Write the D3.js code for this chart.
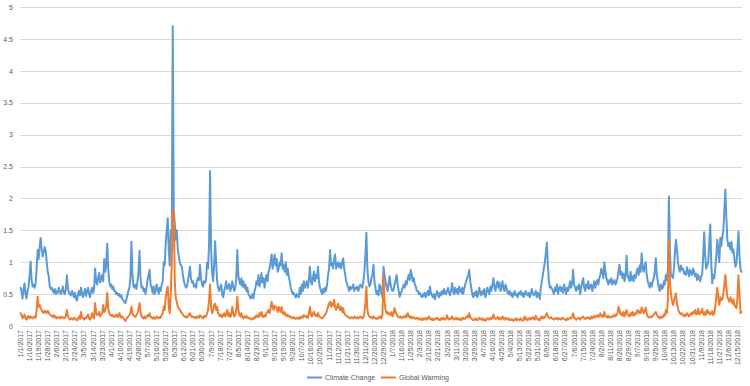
<!DOCTYPE html>
<html><head><meta charset="utf-8">
<script src="https://cdn.jsdelivr.net/npm/d3@7/dist/d3.min.js"></script>
<style>body{margin:0;background:#fff}svg{display:block}</style>
</head><body><svg id="c" width="750" height="386"></svg>
<script>
const seriesNames = ["Climate Change", "Global Warming"];
const seriesColors = ["#5B9BD5", "#ED7D31"];
const missingDays = ["12/1/2017", "12/2/2017"];
const yTicks = [0, 0.5, 1, 1.5, 2, 2.5, 3, 3.5, 4, 4.5, 5];
const tickLabels = ["1/1/2017","1/10/2017","1/19/2017","1/28/2017","2/6/2017","2/15/2017","2/24/2017","3/5/2017","3/14/2017","3/23/2017","4/1/2017","4/10/2017","4/19/2017","4/28/2017","5/7/2017","5/16/2017","5/25/2017","6/3/2017","6/12/2017","6/21/2017","6/30/2017","7/9/2017","7/18/2017","7/27/2017","8/5/2017","8/14/2017","8/23/2017","9/1/2017","9/10/2017","9/19/2017","9/28/2017","10/7/2017","10/16/2017","10/25/2017","11/3/2017","11/12/2017","11/21/2017","11/30/2017","12/11/2017","12/20/2017","12/29/2017","1/7/2018","1/16/2018","1/25/2018","2/3/2018","2/12/2018","2/21/2018","3/2/2018","3/11/2018","3/20/2018","3/29/2018","4/7/2018","4/16/2018","4/25/2018","5/4/2018","5/13/2018","5/22/2018","5/31/2018","6/9/2018","6/18/2018","6/27/2018","7/6/2018","7/15/2018","7/24/2018","8/2/2018","8/11/2018","8/20/2018","8/29/2018","9/7/2018","9/16/2018","9/25/2018","10/4/2018","10/13/2018","10/22/2018","10/31/2018","11/9/2018","11/18/2018","11/27/2018","12/6/2018","12/15/2018"];

const climateChange = [
0.6,0.55,0.43,0.58,0.67,0.5,0.43,0.55,0.62,0.78,1.01,0.72,0.62,0.65,0.6,0.66,
0.9,1.19,1.05,1.25,1.38,1.2,1.09,1.16,1.24,1.18,1.0,0.85,0.78,0.62,0.58,
0.6,0.55,0.52,0.58,0.5,0.55,0.52,0.6,0.54,0.5,0.55,0.62,0.52,0.5,0.58,0.79,
0.6,0.52,0.5,0.48,0.55,0.5,0.45,0.52,0.42,0.4,0.5,0.55,0.48,0.6,0.5,0.45,0.52,0.58,0.47,0.55,0.6,0.5,0.45,0.55,0.6,0.52,0.58,
0.9,0.7,0.65,0.75,0.83,0.68,0.75,0.8,0.7,1.05,0.85,0.95,1.29,0.9,0.7,0.62,0.65,0.58,0.62,0.55,
0.55,0.5,0.52,0.48,0.5,0.45,0.48,0.42,0.4,0.38,0.36,0.42,0.48,0.55,0.6,0.75,
1.32,0.8,0.62,0.6,0.65,0.58,0.7,0.85,1.18,0.75,0.6,0.62,0.55,0.58,0.5,0.6,0.72,0.8,
0.88,0.65,0.6,0.52,0.62,0.5,0.55,0.65,0.58,0.5,0.6,0.55,0.65,0.7,1.0,0.95,1.3,1.5,
1.69,1.2,0.95,1.5,1.4,4.7,1.8,1.6,1.35,1.5,1.2,1.09,1.0,0.95,0.93,
0.8,0.7,0.65,0.6,0.62,0.7,0.8,0.93,0.75,0.68,0.7,0.62,0.65,0.6,0.7,0.75,0.72,0.96,0.75,0.65,0.62,0.7,0.68,0.72,0.99,0.9,1.3,
2.43,1.2,0.83,0.7,0.95,1.33,1.0,0.7,0.6,0.55,0.6,
0.65,0.5,0.45,0.55,0.62,0.7,0.58,0.6,0.66,0.55,0.6,0.7,0.62,0.55,0.6,0.75,
1.19,0.8,0.7,0.65,0.75,0.62,0.7,0.6,0.65,0.55,0.6,0.5,0.48,0.43,0.45,0.5,0.43,0.55,
0.6,0.7,0.65,0.8,0.62,0.7,0.83,0.68,0.75,0.6,0.72,0.8,0.7,0.85,0.9,1.0,
1.12,0.9,1.0,1.12,0.95,1.05,0.85,0.9,1.0,0.95,1.14,0.9,0.95,0.85,1.0,0.8,0.9,0.78,
0.7,0.6,0.55,0.5,0.52,0.48,0.45,0.5,0.47,0.45,0.6,0.5,0.65,0.55,0.7,0.6,0.65,0.7,0.6,0.72,
0.93,0.7,0.65,0.75,0.85,0.7,0.8,0.75,0.93,0.7,0.6,0.55,0.5,0.58,0.52,0.6,0.55,0.65,0.8,0.9,
1.19,0.95,0.99,0.9,1.05,1.12,0.9,0.95,1.0,0.92,0.98,0.9,1.0,1.06,0.9,0.8,0.7,0.65,
0.6,0.55,0.62,0.58,0.6,0.65,0.55,0.6,0.58,0.62,0.55,0.6,0.65,0.62,0.6,0.7,0.85,1.1,
1.46,0.9,0.7,0.62,0.65,0.75,0.8,0.96,0.7,0.6,0.5,0.55,0.48,0.65,0.62,0.5,0.45,0.93,
0.8,0.7,0.62,0.55,0.65,0.78,0.65,0.58,0.55,0.57,0.65,0.72,0.8,0.65,0.55,0.46,0.5,0.55,0.6,
0.65,0.6,0.7,0.65,0.75,0.8,0.72,0.88,0.8,0.7,0.75,0.65,0.62,0.55,
0.55,0.5,0.52,0.48,0.45,0.5,0.47,0.52,0.45,0.5,0.55,0.48,
0.62,0.52,0.48,0.45,0.5,0.42,0.48,0.55,0.5,0.45,0.52,0.48,0.55,0.5,0.58,0.52,0.5,0.55,0.6,0.52,0.48,0.55,
0.67,0.55,0.5,0.6,0.52,0.58,0.5,0.62,0.55,0.52,0.6,0.5,0.58,0.65,0.7,0.75,0.8,
0.88,0.7,0.6,0.5,0.45,0.52,0.48,0.55,0.45,0.5,0.6,0.52,0.48,0.55,0.5,0.58,0.45,0.52,0.6,0.55,0.5,0.62,0.55,0.65,
0.75,0.6,0.55,0.65,0.7,0.6,0.68,0.55,0.62,0.7,0.58,0.55,0.65,0.6,0.52,
0.5,0.55,0.48,0.52,0.45,0.5,0.55,0.48,0.5,0.45,0.52,0.5,0.55,0.48,0.52,0.45,0.5,0.55,0.5,0.48,0.52,0.45,0.5,0.58,0.52,0.48,0.5,0.55,0.45,0.52,0.5,0.42,0.6,
0.7,0.8,0.9,1.0,1.15,1.31,0.95,0.7,0.6,0.62,0.58,
0.55,0.5,0.6,0.55,0.65,0.5,0.58,0.62,0.55,0.6,0.52,0.65,0.58,0.5,0.6,0.55,0.62,0.7,0.6,0.65,
0.88,0.65,0.6,0.55,0.62,0.58,0.65,0.5,0.6,0.68,0.75,0.6,0.55,0.65,0.6,0.7,0.58,0.62,0.65,0.55,0.62,0.7,0.6,0.68,0.72,0.65,0.75,
0.8,0.9,0.85,0.75,1.0,0.85,0.75,0.7,0.65,0.72,0.68,0.75,0.65,0.7,0.72,0.65,0.68,0.75,0.85,
0.96,0.8,0.85,0.75,0.82,0.7,0.78,1.1,0.8,0.75,0.7,0.85,0.72,0.78,0.7,0.8,0.75,0.85,0.9,0.8,0.95,0.85,
1.14,0.9,0.85,0.95,1.0,0.8,0.7,0.65,0.6,0.68,0.62,0.7,0.75,0.85,
1.06,0.8,0.7,0.6,0.55,0.65,0.58,0.6,0.7,0.65,0.8,0.72,0.9,
2.03,1.2,0.78,0.8,0.75,0.9,1.15,1.35,1.2,1.0,
0.9,0.85,0.95,0.88,0.9,0.82,0.85,0.8,0.92,0.85,0.78,0.88,0.82,0.8,0.9,0.85,0.78,0.82,0.72,0.8,0.75,0.7,0.78,
0.8,1.1,1.47,1.1,0.9,0.95,1.0,1.3,1.59,1.0,0.67,0.8,0.75,0.9,1.1,1.35,1.2,1.0,1.38,1.25,1.4,1.5,1.8,2.14,1.7,1.35,1.25,1.3,1.2,1.32,1.15,1.2,1.05,0.93,0.98,1.2,1.48,1.1,0.88,0.85
];

const globalWarming = [
0.2,0.17,0.12,0.15,0.18,0.12,0.1,0.14,0.16,0.12,0.15,0.13,0.12,0.14,0.15,0.13,
0.25,0.46,0.3,0.33,0.28,0.25,0.22,0.2,0.24,0.22,0.2,0.24,0.21,0.18,0.17,
0.16,0.14,0.17,0.13,0.15,0.12,0.14,0.13,0.12,0.15,0.13,0.14,0.12,0.13,0.16,0.25,
0.16,0.12,0.1,0.12,0.11,0.1,0.13,0.12,0.1,0.09,0.12,0.15,0.11,0.22,0.14,0.12,0.1,0.13,0.12,0.15,0.18,0.12,0.1,0.13,0.2,0.15,0.12,
0.36,0.2,0.17,0.18,0.22,0.15,0.18,0.2,0.33,0.22,0.25,0.3,0.52,0.28,0.2,0.17,0.16,0.18,0.15,0.14,
0.17,0.15,0.18,0.14,0.2,0.16,0.13,0.15,0.12,0.1,0.08,0.11,0.13,0.15,0.17,0.2,
0.3,0.2,0.17,0.15,0.14,0.17,0.2,0.26,0.36,0.22,0.15,0.13,0.12,0.15,0.12,0.14,0.17,0.15,
0.2,0.15,0.13,0.12,0.14,0.11,0.12,0.15,0.13,0.12,0.14,0.13,0.18,0.2,0.3,0.25,0.45,0.55,
0.62,0.3,0.2,0.5,1.0,1.82,1.78,0.7,0.43,0.38,0.3,0.28,0.25,0.22,0.2,
0.18,0.16,0.14,0.15,0.13,0.15,0.18,0.2,0.16,0.14,0.15,0.13,0.14,0.12,0.15,0.14,0.13,0.17,0.15,0.13,0.12,0.16,0.14,0.15,0.2,0.25,0.4,
0.65,0.3,0.2,0.25,0.33,0.35,0.25,0.3,0.2,0.17,0.15,
0.18,0.14,0.16,0.2,0.15,0.18,0.25,0.16,0.2,0.14,0.17,0.3,0.2,0.15,0.18,0.25,
0.46,0.25,0.18,0.15,0.2,0.14,0.12,0.15,0.13,0.16,0.14,0.12,0.13,0.11,0.1,0.12,0.11,0.14,
0.13,0.17,0.15,0.14,0.2,0.16,0.22,0.15,0.14,0.17,0.15,0.2,0.22,0.25,0.2,0.28,
0.38,0.3,0.25,0.32,0.3,0.28,0.22,0.3,0.26,0.22,0.3,0.2,0.18,0.22,0.17,0.15,0.18,0.16,
0.14,0.15,0.13,0.12,0.14,0.12,0.11,0.13,0.12,0.11,0.14,0.12,0.15,0.13,0.17,0.15,0.14,0.16,0.13,0.2,
0.3,0.18,0.15,0.2,0.22,0.16,0.18,0.15,0.2,0.16,0.14,0.13,0.12,0.14,0.15,0.18,0.2,0.25,0.3,0.35,
0.38,0.3,0.36,0.32,0.41,0.3,0.25,0.3,0.35,0.28,0.25,0.3,0.22,0.28,0.2,0.18,0.16,0.15,
0.14,0.13,0.12,0.14,0.13,0.12,0.15,0.13,0.12,0.14,0.12,0.13,0.15,0.14,0.12,0.13,0.2,0.35,
0.62,0.25,0.17,0.15,0.13,0.14,0.12,0.15,0.13,0.12,0.11,0.13,0.12,0.15,0.14,0.12,0.2,0.79,
0.4,0.25,0.2,0.22,0.18,0.2,0.17,0.22,0.15,0.2,0.28,0.22,0.18,0.15,0.14,0.13,0.15,0.12,0.14,
0.15,0.13,0.17,0.14,0.2,0.16,0.13,0.15,0.12,0.14,0.13,0.12,0.11,0.13,0.12,0.1,0.12,0.11,0.09,0.12,0.1,0.11,0.13,0.1,0.12,0.15,
0.11,0.1,0.12,0.09,0.11,0.1,0.12,0.13,0.1,0.11,0.09,0.12,0.1,0.13,0.11,0.1,0.12,0.17,0.11,0.1,0.12,0.11,0.15,0.12,0.1,0.11,0.13,0.1,0.12,0.11,0.09,0.12,0.1,0.13,0.11,0.12,0.14,0.16,0.13,
0.2,0.14,0.12,0.1,0.09,0.11,0.1,0.12,0.09,0.1,0.13,0.11,0.1,0.12,0.09,0.11,0.08,0.1,0.12,0.11,0.1,0.13,0.11,0.12,0.18,0.13,0.11,0.12,0.14,0.11,0.13,0.1,0.12,0.15,0.11,0.1,0.13,0.12,0.1,
0.12,0.1,0.09,0.11,0.1,0.08,0.1,0.12,0.09,0.11,0.1,0.09,0.12,0.1,0.08,0.11,0.15,0.1,0.12,0.09,0.11,0.13,0.1,0.12,0.14,0.11,0.1,0.16,0.12,0.1,0.11,0.09,0.13,
0.15,0.12,0.14,0.13,0.17,0.2,0.15,0.13,0.12,0.14,0.12,
0.11,0.1,0.12,0.11,0.13,0.1,0.12,0.11,0.1,0.13,0.12,0.11,0.1,0.09,0.12,0.1,0.11,0.13,0.12,0.14,
0.2,0.13,0.12,0.1,0.11,0.12,0.13,0.1,0.12,0.14,0.15,0.12,0.11,0.13,0.12,0.14,0.12,0.11,0.15,0.12,0.14,0.16,0.13,0.15,0.17,0.14,0.16,
0.2,0.15,0.17,0.14,0.22,0.16,0.15,0.13,0.16,0.14,0.13,0.15,0.14,0.16,0.18,0.15,0.17,0.2,0.3,
0.25,0.18,0.2,0.16,0.22,0.15,0.2,0.25,0.18,0.16,0.15,0.2,0.17,0.22,0.16,0.2,0.18,0.22,0.25,0.2,0.23,0.2,
0.29,0.25,0.2,0.22,0.29,0.2,0.15,0.14,0.13,0.15,0.14,0.16,0.18,0.2,0.22,0.18,0.15,0.14,0.12,0.15,0.13,0.14,0.18,0.16,0.25,0.2,0.4,
1.35,0.7,0.51,0.4,0.33,0.4,0.45,0.51,0.35,0.28,0.22,0.2,0.18,
0.2,0.17,0.15,0.18,0.16,0.2,0.18,0.15,0.17,0.2,0.18,0.22,0.2,0.25,0.18,0.2,0.27,0.18,0.22,0.2,0.27,0.2,0.17,0.22,0.18,0.25,0.2,0.22,0.18,0.2,0.23,0.17,0.2,0.3,0.45,
0.6,0.45,0.33,0.45,0.4,0.42,0.5,0.65,0.8,0.6,0.45,0.42,0.38,0.45,0.4,0.35,0.42,0.33,0.3,0.28,0.45,0.79,0.5,0.2,0.22
];

(function () {
  // categories: consecutive days from 1/1/2017, minus the missing days
  const fmt = d3.timeFormat("%-m/%-d/%Y");
  const N = Math.max(climateChange.length, globalWarming.length);
  const categories = [];
  for (let d = new Date(2017, 0, 1); categories.length < N; d = d3.timeDay.offset(d, 1)) {
    const s = fmt(d);
    if (!missingDays.includes(s)) categories.push(s);
  }

  const svg = d3.select("#c");
  const mLeft = 20, mRight = 742, mTop = 7, mBottom = 326;
  const x = d3.scaleBand().domain(categories).range([mLeft, mRight]);
  const y = d3.scaleLinear().domain([0, 5]).range([mBottom, mTop]);
  const cx = c => x(c) + x.bandwidth() / 2;
  const font = "Liberation Sans, Arial, sans-serif";

  // gridlines
  svg.append("g").selectAll("line").data(yTicks).join("line")
    .attr("x1", mLeft).attr("x2", mRight)
    .attr("y1", d => Math.round(y(d)) + 0.5).attr("y2", d => Math.round(y(d)) + 0.5)
    .attr("stroke", "#d9d9d9").attr("stroke-width", 1);

  // y axis labels
  const yAxis = d3.axisLeft(y).tickValues(yTicks).tickSize(0).tickPadding(0).tickFormat(d3.format("~g"));
  const gy = svg.append("g").attr("transform", `translate(${mLeft - 7},0)`).call(yAxis);
  gy.select(".domain").remove();
  gy.selectAll("text").attr("fill", "#595959").style("font-family", font).style("font-size", "7px");

  // x axis
  const xAxis = d3.axisBottom(x).tickValues(tickLabels).tickSize(0).tickPadding(0);
  const gx = svg.append("g").attr("transform", `translate(0,${mBottom})`).call(xAxis);
  gx.select(".domain").attr("stroke", "#d9d9d9");
  gx.selectAll("text")
    .attr("fill", "#595959")
    .style("font-family", font).style("font-size", "7px")
    .attr("text-anchor", "end")
    .attr("transform", "translate(0,4) rotate(-90)")
    .attr("x", 0).attr("y", 0).attr("dy", "0.35em");

  // lines
  const series = [climateChange, globalWarming];
  const line = d3.line().x((d, i) => cx(categories[i])).y(d => y(d));
  series.forEach((vals, k) => {
    svg.append("path").datum(vals)
      .attr("fill", "none").attr("stroke", seriesColors[k])
      .attr("stroke-width", 2).attr("stroke-linejoin", "round").attr("stroke-linecap", "round")
      .attr("d", line);
  });

  // legend
  const legendX = [307, 381];
  const lg = svg.append("g");
  seriesNames.forEach((name, k) => {
    lg.append("line").attr("x1", legendX[k]).attr("x2", legendX[k] + 15)
      .attr("y1", 377.5).attr("y2", 377.5).attr("stroke", seriesColors[k]).attr("stroke-width", 2);
    lg.append("text").attr("x", legendX[k] + 18).attr("y", 377.5).attr("dy", "0.35em")
      .attr("fill", "#595959").style("font-family", font).style("font-size", "7px")
      .text(name);
  });
})();
</script>
</body></html>
